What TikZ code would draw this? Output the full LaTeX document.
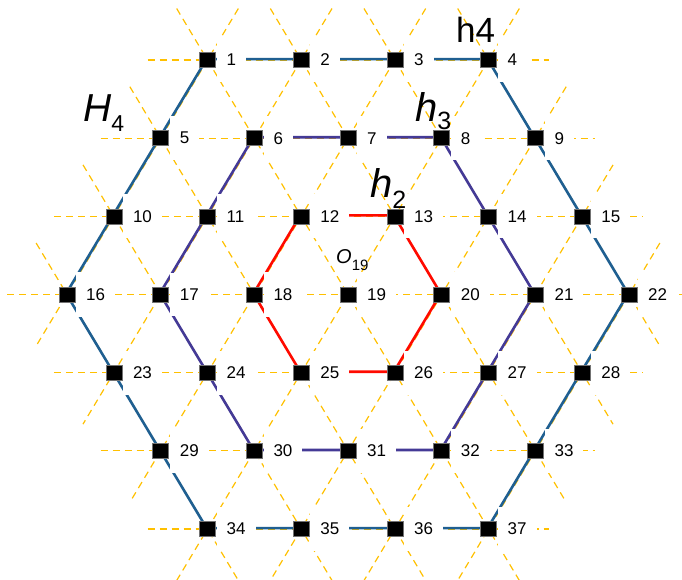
\documentclass[tikz,border=0pt]{standalone}
\usepackage{fontspec}
\setmainfont{Liberation Sans}
\usetikzlibrary{calc}
\definecolor{latc}{RGB}{255,192,0}
\definecolor{hblue}{RGB}{31,95,145}
\definecolor{hpurple}{RGB}{68,58,150}
\definecolor{hred}{RGB}{255,10,0}
\begin{document}
\begin{tikzpicture}[x=1pt,y=-1pt,
  lattice/.style={draw=latc, line width=1.2pt, dash pattern=on 7pt off 5pt},
  ring/.style={line width=2.6pt, line join=round, transform canvas={shift={(-0.9pt,0.9pt)}}},
  ringbig/.style={ring, draw=hblue},
  ringmid/.style={ring, draw=hpurple},
  ringsmall/.style={ring, draw=hred},
  site/.style={fill=black, draw=black!55, line width=0.5pt, minimum width=16pt, minimum height=15pt, inner sep=0pt},
  num/.style={fill=white, inner xsep=10pt, inner ysep=16pt, font=\fontsize{17}{17}\selectfont, anchor=west},
  biglab/.style={anchor=base west, inner sep=0pt}]
\useasboundingbox (0,0) rectangle (682,580);
% lattice site coordinates
\foreach \r/\n/\s in {0/4/1, 1/5/5, 2/6/10, 3/7/16, 4/6/23, 5/5/29, 6/4/34} {
  \foreach \c in {1,...,\n} {
    \pgfmathtruncatemacro\k{\s+\c-1}
    \pgfmathsetmacro\xx{67+93.67*(\c-1+abs(\r-3)/2)}
    \pgfmathsetmacro\yy{60+78.17*\r}
    \coordinate (p\k) at (\xx,\yy);
  }
}
% dashed triangular lattice
\foreach \a/\b in {1/4, 5/9, 10/15, 16/22, 23/28, 29/33, 34/37,
                   1/37, 2/33, 3/28, 4/22, 5/36, 10/35, 16/34,
                   4/34, 3/29, 2/23, 1/16, 9/35, 15/36, 22/37}
  \draw[lattice] ($(p\a)!-60pt!(p\b)$) -- ($(p\b)!-60pt!(p\a)$);
% coloured rings
\draw[ringbig] (p1)--(p2)--(p3)--(p4)--(p9)--(p15)--(p22)--(p28)--(p33)--(p37)--(p36)--(p35)--(p34)--(p29)--(p23)--(p16)--(p10)--(p5)--cycle;
\draw[ringmid] (p6)--(p7)--(p8)--(p14)--(p21)--(p27)--(p32)--(p31)--(p30)--(p24)--(p17)--(p11)--cycle;
\draw[ringsmall] (p12)--(p13)--(p20)--(p26)--(p25)--(p18)--cycle;
% number labels
\foreach \k in {1,...,37}
  \node[num] (l\k) at ($(p\k)+(9,0)$) {\k};
% sites
\foreach \k in {1,...,37}
  \node[site] (n\k) at (p\k) {};
% ring names
\node[biglab] (H4) at (83,122) {\fontsize{39}{39}\selectfont\itshape H\raisebox{-10pt}{\fontsize{23}{23}\selectfont\upshape 4}};
\node[biglab] (hh4) at (456,43) {\fontsize{35}{35}\selectfont h4};
\node[biglab] (h3) at (415,122) {\fontsize{40}{40}\selectfont\itshape h\raisebox{-8pt}{\fontsize{25}{25}\selectfont\upshape 3}};
\node[biglab] (h2) at (370,197) {\fontsize{40}{40}\selectfont\itshape h\raisebox{-11pt}{\fontsize{25}{25}\selectfont\upshape 2}};
\node[biglab] (O19) at (336,263) {\fontsize{20}{20}\selectfont\itshape O\raisebox{-7pt}{\fontsize{15}{15}\selectfont\upshape 19}};
\end{tikzpicture}
\end{document}
